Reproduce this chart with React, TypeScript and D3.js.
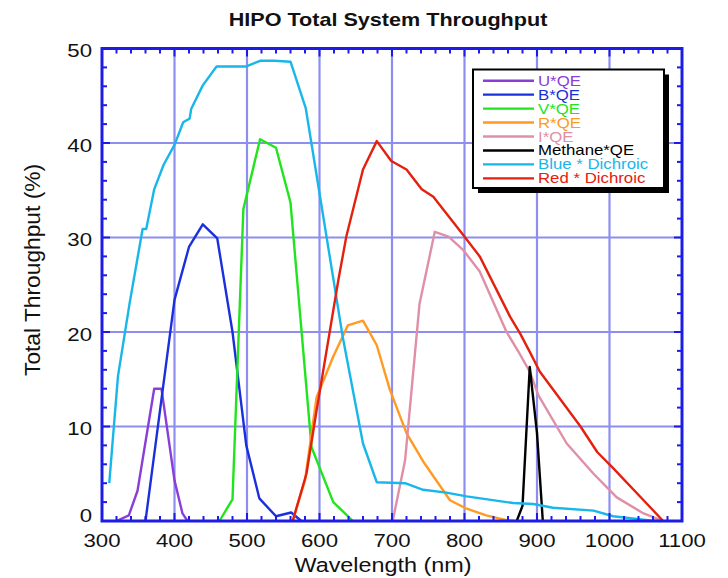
import React from "react";
import * as d3 from "d3";

const title = "HIPO Total System Throughput";
const xLabel = "Wavelength (nm)";
const yLabel = "Total Throughput (%)";
const xTicks = [300, 400, 500, 600, 700, 800, 900, 1000, 1100];
const yTicks = [0, 10, 20, 30, 40, 50];

const uWl = [320, 337, 349, 372, 382, 400, 411, 418];
const uVal = [0, 0.6, 3.2, 14.0, 14.0, 4.3, 0.8, 0];
const bWl = [360, 400, 420, 439, 459, 480, 499, 517, 540, 561, 575];
const bVal = [0, 23.4, 29.0, 31.4, 29.9, 20.0, 8.0, 2.4, 0.5, 0.9, 0];
const vWl = [462, 480, 495, 518, 540, 560, 589, 619, 646];
const vVal = [0, 2.3, 33.0, 40.4, 39.5, 33.7, 7.8, 2.0, 0];
const rWl = [563, 580, 596, 619, 639, 660, 679, 697, 720, 743, 780, 803, 830, 858, 870];
const rVal = [0, 4.3, 13.1, 17.4, 20.7, 21.2, 18.6, 13.9, 9.3, 6.3, 2.2, 1.3, 0.6, 0.1, 0];
const iWl = [701, 718, 738, 759, 778, 798, 821, 858, 876, 890, 902, 941, 978, 1010, 1047, 1074];
const iVal = [0, 6.4, 23.0, 30.6, 30.1, 28.7, 26.4, 20.0, 17.7, 15.8, 13.3, 8.2, 5.0, 2.5, 0.8, 0];
const mWl = [872, 880, 890, 900, 908];
const mVal = [0, 1.6, 16.3, 9.3, 0];
const blueWl = [310, 322, 338, 356, 361, 372, 385, 400, 412, 421, 423, 439, 458, 499, 518, 538, 560, 581, 632, 660, 679, 718, 743, 775, 803, 867, 895, 922, 978, 1005, 1056, 1070];
const blueVal = [4.0, 15.3, 23.0, 30.9, 30.9, 35.1, 37.7, 39.8, 42.2, 42.6, 43.6, 46.1, 48.1, 48.1, 48.7, 48.7, 48.6, 43.7, 19.5, 8.2, 4.1, 4.0, 3.3, 3.0, 2.6, 1.9, 1.8, 1.4, 1.1, 0.5, 0.07, 0];
const redWl = [563, 582, 596, 626, 637, 660, 679, 699, 720, 741, 757, 798, 821, 863, 877, 890, 904, 960, 983, 1005, 1047, 1074];
const redVal = [0, 5.0, 11.7, 25.5, 30.1, 37.2, 40.2, 38.1, 37.2, 35.1, 34.3, 30.3, 28.0, 21.6, 19.8, 17.9, 15.8, 10.0, 7.3, 5.6, 2.2, 0];

const seriesNames = ["U*QE", "B*QE", "V*QE", "R*QE", "I*QE", "Methane*QE", "Blue * Dichroic", "Red * Dichroic"];
const seriesColors = ["#8a3ed8", "#1a30dc", "#22e41e", "#ff9a22", "#e090a6", "#000000", "#19b6ea", "#e4200e"];
const seriesWl = [uWl, bWl, vWl, rWl, iWl, mWl, blueWl, redWl];
const seriesVal = [uVal, bVal, vVal, rVal, iVal, mVal, blueVal, redVal];

const FONT = "'Liberation Sans', Arial, Helvetica, sans-serif";
const SX = 1.2;
const FRAME = "#1c1ce6";
const GRID = "#8e8ef0";

export default function App() {
  const left = 102, right = 682, top = 48.5, bottom = 521;
  const x = d3.scaleLinear().domain([300, 1100]).range([left, right]);
  const y = d3.scaleLinear().domain([0, 50]).range([bottom, top]);
  const line = d3.line<[number, number]>().x(d => x(d[0])).y(d => y(d[1]));

  const xMinor = d3.range(300, 1100.1, 20);
  const yMinor = d3.range(0, 50.1, 2);

  const lg = { x: 473, y: 69.5, w: 191, h: 118.5, row0: 80.7, dy: 13.95, l0: 483, l1: 534, tx: 538 };

  return (
    <svg width={728} height={578} style={{ position: "absolute", left: 0, top: 0, background: "#fff" }} fontFamily={FONT}>
      <rect width={728} height={578} fill="#fff" />
      {/* grid */}
      {xTicks.slice(1, -1).map(t => (
        <line key={"gx" + t} x1={x(t)} x2={x(t)} y1={top} y2={bottom} stroke={GRID} strokeWidth={2.2} />
      ))}
      {yTicks.slice(1, -1).map(t => (
        <line key={"gy" + t} x1={left} x2={right} y1={y(t)} y2={y(t)} stroke={GRID} strokeWidth={2.2} />
      ))}
      {/* series */}
      {seriesNames.map((n, i) => (
        <path key={n} d={line(seriesWl[i].map((w, j) => [w, seriesVal[i][j]] as [number, number])) || ""}
          fill="none" stroke={seriesColors[i]} strokeWidth={2.4} strokeLinejoin="round" />
      ))}
      {/* ticks */}
      {xMinor.map(t => {
        const major = t % 100 === 0;
        const len = major ? 8 : 5;
        return (
          <g key={"tx" + t}>
            <line x1={x(t)} x2={x(t)} y1={bottom} y2={bottom - len} stroke={FRAME} strokeWidth={2} />
            <line x1={x(t)} x2={x(t)} y1={top} y2={top + len} stroke={FRAME} strokeWidth={2} />
          </g>
        );
      })}
      {yMinor.map(t => {
        const major = t % 10 === 0;
        const len = major ? 8 : 5;
        return (
          <g key={"ty" + t}>
            <line x1={left} x2={left + len} y1={y(t)} y2={y(t)} stroke={FRAME} strokeWidth={2} />
            <line x1={right} x2={right - len} y1={y(t)} y2={y(t)} stroke={FRAME} strokeWidth={2} />
          </g>
        );
      })}
      <rect x={left} y={top} width={right - left} height={bottom - top} fill="none" stroke={FRAME} strokeWidth={3} />
      {/* tick labels */}
      {xTicks.map(t => (
        <text key={"lx" + t} transform={`translate(${x(t)},${547}) scale(${SX},1)`} textAnchor="middle" fontSize={18.5} fill="#111">{t}</text>
      ))}
      {yTicks.map(t => (
        <text key={"ly" + t} transform={`translate(${92},${Math.min(y(t) + 8.5, bottom + 1)}) scale(${SX},1)`} textAnchor="end" fontSize={18.5} fill="#111">{t}</text>
      ))}
      {/* titles */}
      <text transform={`translate(388,26) scale(${SX},1)`} textAnchor="middle" fontSize={18} fontWeight="bold" fill="#111">{title}</text>
      <text transform={`translate(383,572) scale(${SX},1)`} textAnchor="middle" fontSize={19.5} fill="#111">{xLabel}</text>
      <text transform={`translate(40,270) rotate(-90) scale(1,1.15)`} textAnchor="middle" fontSize={18.5} fill="#111"
        textLength={212} lengthAdjust="spacingAndGlyphs">{yLabel}</text>
      {/* legend */}
      <rect x={lg.x + 5} y={lg.y + 5} width={lg.w} height={lg.h} fill="#000" />
      <rect x={lg.x} y={lg.y} width={lg.w} height={lg.h} fill="#fff" stroke="#000" strokeWidth={2} />
      {seriesNames.map((n, i) => {
        const yy = lg.row0 + i * lg.dy;
        return (
          <g key={"lg" + n}>
            <line x1={lg.l0} x2={lg.l1} y1={yy} y2={yy} stroke={seriesColors[i]} strokeWidth={2.4} />
            <text transform={`translate(${lg.tx},${yy + 5}) scale(${SX},1)`} fontSize={14} fill={seriesColors[i]}>{n}</text>
          </g>
        );
      })}
    </svg>
  );
}
